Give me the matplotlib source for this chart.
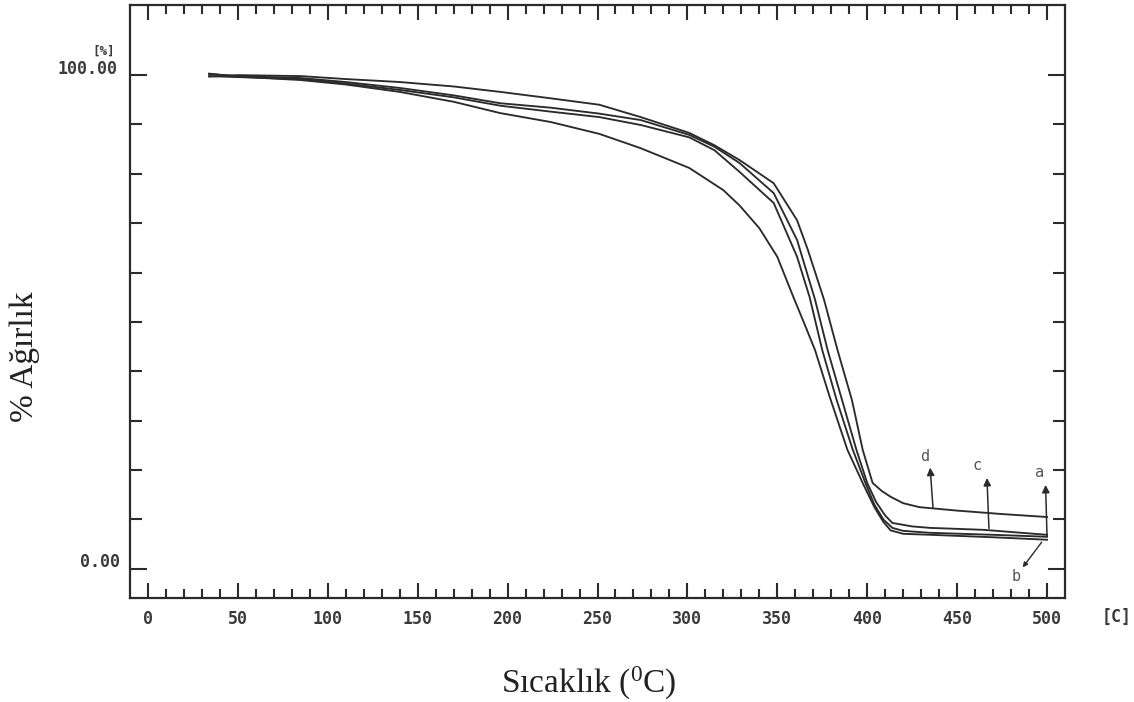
import matplotlib
matplotlib.use("Agg")
import matplotlib.pyplot as plt
from matplotlib.ticker import FixedLocator, NullFormatter

# ---------------- data ----------------
T_a = [34, 50, 85, 110, 140, 170, 196, 224, 251, 274, 301, 315, 329, 348, 361, 368, 375, 383, 392, 399, 404, 409, 414, 420, 435, 470, 500]
W_a = [99.8, 99.6, 99.2, 98.3, 97.0, 95.5, 93.8, 92.6, 91.5, 89.9, 87.4, 84.8, 80.4, 74.1, 63.2, 55.0, 44.3, 34.2, 24.1, 17.4, 13.0, 10.0, 8.3, 7.7, 7.3, 6.9, 6.5]

T_b = [34, 50, 85, 110, 140, 170, 196, 224, 251, 274, 301, 320, 329, 340, 350, 359, 365, 371, 379, 389, 398, 404, 409, 413, 420, 435, 470, 500]
W_b = [100.3, 99.7, 99.0, 98.1, 96.6, 94.6, 92.3, 90.5, 88.1, 85.2, 81.2, 76.7, 73.6, 69.0, 63.2, 55.0, 49.7, 44.3, 35.0, 24.1, 17.0, 12.5, 9.5, 7.8, 7.1, 6.9, 6.4, 5.9]

T_c = [34, 50, 85, 110, 140, 170, 196, 224, 251, 274, 301, 315, 329, 348, 361, 371, 378, 386, 394, 400, 405, 410, 414, 425, 435, 465, 500]
W_c = [100.2, 99.8, 99.4, 98.6, 97.4, 95.9, 94.3, 93.4, 92.2, 90.9, 87.9, 85.5, 82.2, 76.1, 66.6, 54.5, 44.3, 34.2, 24.1, 17.4, 13.5, 10.8, 9.3, 8.6, 8.3, 7.9, 6.9]

T_d = [34, 50, 85, 110, 140, 170, 196, 224, 251, 274, 301, 315, 329, 348, 361, 367, 376, 383.5, 391.5, 397.5, 403, 408, 413, 420, 429, 450, 475, 500]
W_d = [99.7, 100.0, 99.8, 99.2, 98.6, 97.7, 96.6, 95.3, 94.0, 91.5, 88.3, 85.8, 82.8, 78.1, 70.6, 64.6, 54.5, 44.3, 34.2, 24.1, 17.4, 15.8, 14.6, 13.3, 12.5, 11.8, 11.1, 10.5]

x_major = [0, 50, 100, 150, 200, 250, 300, 350, 400, 450, 500]
x_minor = list(range(0, 501, 10))
x_labels = ["0", "50", "100", "150", "200", "250", "300", "350", "400", "450", "500"]
y_major = [0, 100]
y_minor = [10, 20, 30, 40, 50, 60, 70, 80, 90]

# ---------------- figure ----------------
W_PX, H_PX = 1134, 702
fig = plt.figure(figsize=(W_PX / 100, H_PX / 100), dpi=100)
left, right, top, bottom = 130, 1065, 5, 598
ax = fig.add_axes([left / W_PX, 1 - bottom / H_PX, (right - left) / W_PX, (bottom - top) / H_PX])
ax.set_xlim(-10, 510)
ax.set_ylim(-5.9, 114.2)

ink = "#2b2b2b"
for T, W in [(T_a, W_a), (T_b, W_b), (T_c, W_c), (T_d, W_d)]:
    ax.plot(T, W, color=ink, lw=1.35, solid_joinstyle="round")

for s in ax.spines.values():
    s.set_color(ink)
    s.set_linewidth(1.6)

mono = "DejaVu Sans Mono"
ax.xaxis.set_major_locator(FixedLocator(x_major))
ax.xaxis.set_minor_locator(FixedLocator(x_minor))
ax.set_xticklabels(x_labels, fontfamily=mono, fontsize=12, fontweight="bold", color="#3a3a3a")
ax.xaxis.set_minor_formatter(NullFormatter())
ax.tick_params(axis="x", which="both", direction="in", top=True, bottom=True,
               labelbottom=True, color=ink, width=1.5, pad=8.5)
ax.tick_params(axis="x", which="major", length=10.8)
ax.tick_params(axis="x", which="minor", length=6.5)

ax.yaxis.set_major_locator(FixedLocator(y_major))
ax.yaxis.set_minor_locator(FixedLocator(y_minor))
ax.yaxis.set_major_formatter(NullFormatter())
ax.yaxis.set_minor_formatter(NullFormatter())
ax.tick_params(axis="y", which="both", direction="in", left=True, right=True,
               color=ink, width=1.5)
ax.tick_params(axis="y", which="major", length=12)
ax.tick_params(axis="y", which="minor", length=8.5)

ytr = ax.get_yaxis_transform()
tk = dict(fontfamily=mono, fontsize=12, fontweight="bold", color="#3a3a3a")
ax.text(-0.013, 101.3, "100.00", transform=ytr, ha="right", va="center", **tk)
ax.text(-0.016, 104.9, "[%]", transform=ytr, ha="right", va="center",
        fontfamily=mono, fontsize=9, fontweight="bold", color="#3a3a3a")
ax.text(-0.011, 1.3, "0.00", transform=ytr, ha="right", va="center", **tk)
ax.text(1.0556, -0.032, "[C]", transform=ax.transAxes, ha="center", va="center", **tk)

# curve annotations
arw = dict(arrowstyle="-|>", color=ink, lw=1.1, mutation_scale=11, shrinkA=0, shrinkB=0)
lbl = dict(ha="center", va="center", fontfamily=mono, fontsize=11, color="#555555")
ax.annotate("", xy=(435, 20.5), xytext=(436.6, 12.3), arrowprops=arw)
ax.text(432, 22.7, "d", **lbl)
ax.annotate("", xy=(466.6, 18.4), xytext=(467.7, 8.2), arrowprops=arw)
ax.text(461, 21.0, "c", **lbl)
ax.annotate("", xy=(499.2, 17.0), xytext=(500, 6.6), arrowprops=arw)
ax.text(496, 19.6, "a", **lbl)
ax.annotate("", xy=(486.5, 0.3), xytext=(497, 5.4),
            arrowprops=dict(arrowstyle="-|>", color=ink, lw=1.0, mutation_scale=7, shrinkA=0, shrinkB=0))
ax.text(483, -1.6, "b", **lbl)

# axis titles
plt.rcParams["mathtext.fontset"] = "custom"
plt.rcParams["mathtext.rm"] = "Liberation Serif"
serif = "Liberation Serif"
fig.text(25 / W_PX, 1 - 357 / H_PX, "% Ağırlık", rotation=90, ha="center", va="center",
         fontfamily=serif, fontsize=24, color="#222222")
fig.text(589 / W_PX, 1 - 683 / H_PX, r"Sıcaklık ($\mathregular{^0}$C)", ha="center", va="center",
         fontfamily=serif, fontsize=24, color="#222222")

fig.savefig("out.png", dpi=100)
